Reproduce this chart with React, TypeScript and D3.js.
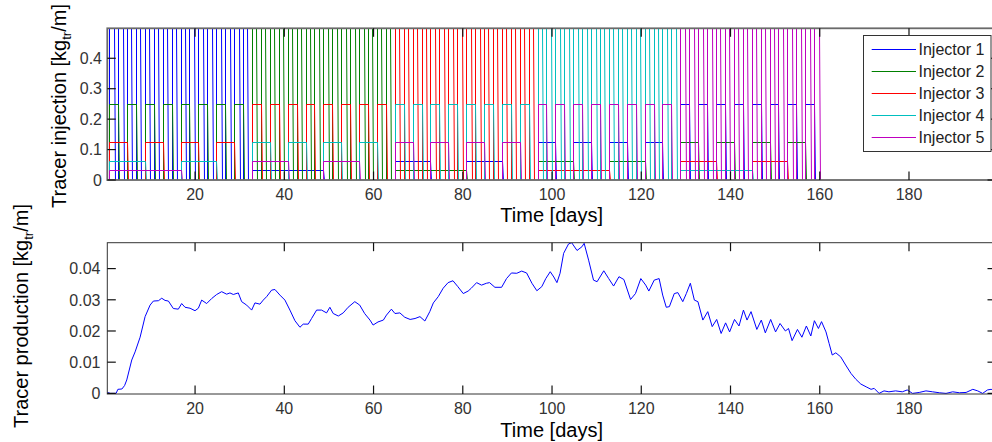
import React from 'react';
import * as d3 from 'd3';

// ---------- data ----------
const injectorNames = ['Injector 1', 'Injector 2', 'Injector 3', 'Injector 4', 'Injector 5'];
const injectorColors = ['#0000ff', '#008000', '#ff0000', '#00bfbf', '#bf00bf'];
// each 32-day block: one injector pulses at the top rate, the others at halved rates / doubled periods
const blockStarts = [0.75, 32.75, 64.75, 96.75, 128.75];
const blockLength = 32;
const rateLevels = [0.5, 0.25, 0.125, 0.0625, 0.03125];
const pulsePeriods = [2, 4, 8, 16, 32];
const rampDays = 0.22;

const xTicks = [20, 40, 60, 80, 100, 120, 140, 160, 180];
const yTicksTop = [0, 0.1, 0.2, 0.3, 0.4];
const yTicksBottom = [0, 0.01, 0.02, 0.03, 0.04];
const yTickLabelsBottom = ['0', '0.01', '0.02', '0.03', '0.04'];

const prodDays = [
  0.35, 1.0, 2.3, 2.7, 3.6, 4.2, 4.69, 5.81, 6.56, 7.68, 8.8, 9.92, 10.66, 11.78, 12.53, 13.27, 14.02,
  15.13, 16.25, 17.0, 17.75, 18.87, 19.99, 20.74, 21.48, 22.6, 23.72, 24.84, 25.96, 27.08, 27.82, 28.57,
  29.69, 30.44, 31.56, 32.68, 33.42, 34.54, 35.28, 36.04, 37.16, 37.9, 39.02, 40.14, 41.26, 42.38, 43.5,
  44.24, 45.36, 46.11, 47.24, 48.35, 49.47, 50.21, 50.96, 52.1, 53.2, 54.3, 55.8, 56.9, 58.0, 59.2, 59.9,
  61.0, 62.2, 62.9, 64.0, 64.8, 65.9, 67.0, 68.2, 69.3, 70.4, 71.5, 72.6, 73.4, 74.5, 75.6, 76.7, 77.8,
  78.9, 80.1, 81.2, 81.9, 83.1, 84.2, 85.3, 86.0, 87.2, 88.7, 89.8, 90.9, 92.1, 93.2, 94.3, 95.5, 96.6,
  97.7, 98.6, 99.6, 100.4, 101.1, 101.8, 102.6, 103.7, 104.4, 105.6, 106.7, 107.2, 108.2, 109.3, 110.1,
  111.6, 112.7, 113.8, 115.0, 116.1, 117.6, 118.7, 119.9, 121.0, 121.7, 122.9, 124.0, 124.8, 125.6, 126.3,
  127.4, 128.2, 129.3, 130.1, 131.0, 131.9, 132.7, 133.8, 134.9, 135.9, 136.9, 137.9, 138.9, 139.8, 140.9,
  141.9, 142.9, 143.7, 144.6, 145.9, 146.9, 147.8, 149.0, 150.1, 151.1, 152.3, 153.0, 153.8, 155.0, 156.0,
  157.0, 158.0, 158.8, 159.7, 160.4, 161.4, 162.1, 162.8, 163.6, 164.7, 165.8, 167.0, 168.1, 169.2, 170.4,
  171.5, 172.2, 173.3, 174.4, 175.5, 177.0, 178.5, 179.6, 180.8, 182.3, 183.8, 185.3, 186.8, 188.3, 189.8,
  191.3, 192.8, 194.3, 195.4, 196.5, 197.6, 198.4, 199.5,
];
const prodValues = [
  0.0003, 0.0, 0.0, 0.0013, 0.0014, 0.0025, 0.0043, 0.0107, 0.0133, 0.018, 0.0246, 0.0283, 0.0296, 0.0297,
  0.0305, 0.0298, 0.0296, 0.0272, 0.027, 0.0288, 0.0276, 0.0273, 0.0265, 0.0273, 0.0299, 0.0288, 0.0304,
  0.0317, 0.0326, 0.0318, 0.0322, 0.0317, 0.0322, 0.0294, 0.0283, 0.0267, 0.029, 0.0286, 0.0299, 0.031,
  0.0331, 0.0333, 0.0315, 0.0299, 0.0267, 0.0233, 0.0212, 0.0222, 0.0222, 0.024, 0.0267, 0.0267, 0.0258,
  0.0276, 0.0256, 0.0248, 0.0258, 0.0276, 0.0294, 0.0283, 0.0256, 0.0235, 0.0219, 0.0229, 0.0235, 0.0251,
  0.027, 0.0256, 0.0258, 0.0244, 0.0237, 0.024, 0.0246, 0.0232, 0.0262, 0.029, 0.031, 0.0337, 0.0355,
  0.0361, 0.0342, 0.032, 0.0328, 0.0337, 0.0355, 0.0347, 0.0353, 0.0355, 0.034, 0.034, 0.0368, 0.0386,
  0.0385, 0.0392, 0.0386, 0.0353, 0.0329, 0.0342, 0.0368, 0.039, 0.0373, 0.0355, 0.0385, 0.0449, 0.0479,
  0.0483, 0.0458, 0.047, 0.0481, 0.0427, 0.0363, 0.0358, 0.0393, 0.0368, 0.0344, 0.0374, 0.0365, 0.0301,
  0.032, 0.0368, 0.0347, 0.0328, 0.0363, 0.0368, 0.0315, 0.0276, 0.0278, 0.032, 0.0323, 0.0294, 0.032,
  0.0353, 0.0299, 0.0294, 0.0235, 0.0262, 0.0214, 0.0237, 0.0192, 0.0226, 0.0197, 0.0237, 0.0216, 0.0267,
  0.0235, 0.0262, 0.0205, 0.0235, 0.0194, 0.0237, 0.0197, 0.0224, 0.02, 0.0208, 0.0169, 0.0205, 0.018,
  0.0216, 0.0184, 0.0233, 0.0208, 0.023, 0.0197, 0.016, 0.0123, 0.013, 0.0117, 0.0091, 0.0064, 0.0045,
  0.003, 0.0021, 0.0013, 0.0016, 0.0, 0.0008, 0.0005, 0.0008, 0.0005, 0.0011, 0.0, 0.0003, 0.0008, 0.0005,
  0.0002, 0.0, 0.0005, 0.0002, 0.0003, 0.0013, 0.0008, 0.0, 0.0011, 0.0013, 0.0008,
];

// ---------- layout ----------
const W = 992;
const H = 442;
const left = 107.3;
const right = 996;
const top1 = 28.3;
const bot1 = 180;
const top2 = 242.7;
const bot2 = 394;
const xDomain = [0.33, 199.5];
const FONT = "'Liberation Sans', Arial, Helvetica, sans-serif";

const x = d3.scaleLinear().domain(xDomain).range([left, right]);
const yTop = d3.scaleLinear().domain([0, 0.4985]).range([bot1, top1]);
const yBot = d3.scaleLinear().domain([-0.0002, 0.0483]).range([bot2, top2]);

const px = (v: number) => Math.round(v) + 0.5;

function injectorPath(i: number): string {
  const p = d3.path();
  p.moveTo(x(xDomain[0]), px(yTop(0)));
  blockStarts.forEach((B, b) => {
    const r = (i - b + 5) % 5;
    const L = rateLevels[r];
    const P = pulsePeriods[r];
    const n = blockLength / P;
    for (let k = 0; k < n; k++) {
      const tOn = B + k * P;
      const tOff = tOn + P / 2;
      const xOn = px(x(tOn));
      const xOff = px(x(tOff));
      const yL = px(yTop(L));
      p.lineTo(xOn, px(yTop(0)));
      p.lineTo(xOn, yL);
      p.lineTo(xOff, yL);
      p.lineTo(xOff + (x(tOff + rampDays) - x(tOff)), px(yTop(0)));
    }
  });
  p.lineTo(x(xDomain[1]), px(yTop(0)));
  return p.toString();
}

const prodLine = d3
  .line<number>()
  .x((_, k) => x(prodDays[k]))
  .y((v) => yBot(v));

function Axes({
  top,
  bottom,
  y,
  yTicks,
  yLabels,
  boxColor,
  boxWidth,
  labelRight,
}: {
  top: number;
  bottom: number;
  y: d3.ScaleLinear<number, number>;
  yTicks: number[];
  yLabels: string[];
  boxColor: string;
  boxWidth: number;
  labelRight: number;
}) {
  const tl = 8.5;
  return (
    <g>
      <rect
        x={left}
        y={top}
        width={right - left}
        height={bottom - top}
        fill="none"
        stroke={boxColor}
        strokeWidth={boxWidth}
      />
      {xTicks.map((t) => (
        <g key={'xt' + t}>
          <line x1={x(t)} x2={x(t)} y1={bottom} y2={bottom - tl} stroke="#111" strokeWidth={1.2} />
          <line x1={x(t)} x2={x(t)} y1={top} y2={top + tl} stroke="#111" strokeWidth={1.2} />
          <text
            x={x(t)}
            y={bottom + 19.5}
            textAnchor="middle"
            fontSize={16}
            fill="#333"
            fontFamily={FONT}
          >
            {t}
          </text>
        </g>
      ))}
      {yTicks.map((t, k) => (
        <g key={'yt' + t}>
          <line x1={left} x2={left + tl} y1={y(t)} y2={y(t)} stroke="#111" strokeWidth={1.2} />
          <line x1={right} x2={right - tl} y1={y(t)} y2={y(t)} stroke="#111" strokeWidth={1.2} />
          <text
            x={labelRight}
            y={y(t)}
            dy="0.36em"
            textAnchor="end"
            fontSize={16}
            fill="#333"
            fontFamily={FONT}
          >
            {yLabels[k]}
          </text>
        </g>
      ))}
    </g>
  );
}

export default function App() {
  if (typeof document !== 'undefined') document.body.style.margin = '0';
  return (
    <svg
      width={W}
      height={H}
      viewBox={`0 0 ${W} ${H}`}
      style={{ position: 'absolute', left: 0, top: 0, background: '#fff' }}
    >
      <defs>
        <clipPath id="clipTop">
          <rect x={left} y={top1} width={right - left} height={bot1 - top1} />
        </clipPath>
        <clipPath id="clipBot">
          <rect x={left} y={top2} width={right - left} height={bot2 - top2} />
        </clipPath>
      </defs>
      <rect x={0} y={0} width={W} height={H} fill="#fff" />

      {/* top plot: injection schedule */}
      <g clipPath="url(#clipTop)">
        {injectorNames.map((name, i) => (
          <path key={name} d={injectorPath(i)} fill="none" stroke={injectorColors[i]} strokeWidth={1} />
        ))}
      </g>
      <Axes
        top={top1}
        bottom={bot1}
        y={yTop}
        yTicks={yTicksTop}
        yLabels={yTicksTop.map((v) => String(v))}
        boxColor="#6a6a6a"
        boxWidth={1.8}
        labelRight={102}
      />
      <text x={(left + right) / 2} y={222} textAnchor="middle" fontSize={20} fill="#000" fontFamily={FONT}>
        Time [days]
      </text>
      <text
        transform={`translate(66,106) rotate(-90)`}
        textAnchor="middle"
        fontSize={20}
        fill="#000"
        fontFamily={FONT}
      >
        Tracer injection [kg
        <tspan dy={5} fontSize={13}>
          tr
        </tspan>
        <tspan dy={-5}>/m]</tspan>
      </text>

      {/* legend */}
      <g>
        <rect x={863.5} y={35.5} width={127.5} height={116} fill="#fff" stroke="#333" strokeWidth={1} />
        {injectorNames.map((name, i) => {
          const ly = 49.5 + i * 22;
          return (
            <g key={'lg' + name}>
              <line x1={871.7} x2={916} y1={ly} y2={ly} stroke={injectorColors[i]} strokeWidth={1} />
              <text x={918.5} y={ly} dy="0.36em" fontSize={16} fill="#222" fontFamily={FONT}>
                {name}
              </text>
            </g>
          );
        })}
      </g>

      {/* bottom plot: production */}
      <g clipPath="url(#clipBot)">
        <path d={prodLine(prodValues) || ''} fill="none" stroke="#0000ff" strokeWidth={1} />
      </g>
      <Axes
        top={top2}
        bottom={bot2}
        y={yBot}
        yTicks={yTicksBottom}
        yLabels={yTickLabelsBottom}
        boxColor="#333"
        boxWidth={1}
        labelRight={100.5}
      />
      <text x={(left + right) / 2} y={436.5} textAnchor="middle" fontSize={20} fill="#000" fontFamily={FONT}>
        Time [days]
      </text>
      <text
        transform={`translate(28,316) rotate(-90)`}
        textAnchor="middle"
        fontSize={20}
        fill="#000"
        fontFamily={FONT}
      >
        Tracer production [kg
        <tspan dy={5} fontSize={13}>
          tr
        </tspan>
        <tspan dy={-5}>/m]</tspan>
      </text>
    </svg>
  );
}
